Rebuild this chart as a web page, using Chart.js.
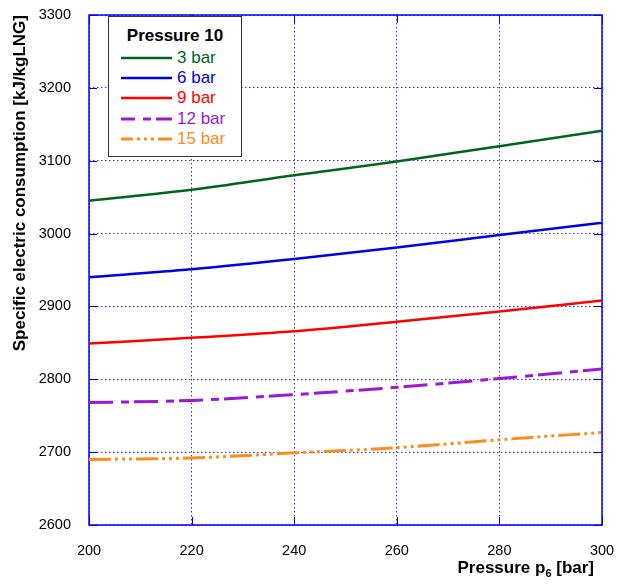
<!DOCTYPE html>
<html>
<head>
<meta charset="utf-8">
<script src="https://cdn.jsdelivr.net/npm/chart.js@4/dist/chart.umd.min.js"></script>
<style>
html,body{margin:0;padding:0;background:#fff;}
#wrap{position:relative;width:617px;height:587px;overflow:hidden;}
canvas{display:block;}
#legend{position:absolute;left:108px;top:16px;width:134px;height:141px;border:1px solid #333;background:#fff;box-sizing:border-box;font-family:"Liberation Sans",Arial,Helvetica,sans-serif;}
#legend .title{position:absolute;left:0;right:0;top:9px;text-align:center;font-weight:bold;font-size:17px;line-height:20px;color:#000;}
#legend .row{position:absolute;left:0;height:20px;width:100%;}
#legend svg{position:absolute;left:12px;top:7px;}
#legend .lab{position:absolute;left:68px;top:0;font-size:17px;line-height:20px;}
#xtitle{position:absolute;right:23px;top:558px;font-family:"Liberation Sans",Arial,Helvetica,sans-serif;font-weight:bold;font-size:17px;line-height:20px;color:#000;white-space:nowrap;}
#xtitle sub{font-size:11px;position:relative;top:4px;vertical-align:baseline;}
</style>
</head>
<body>
<div id="wrap">
<canvas id="c" width="617" height="587"></canvas>
<div id="legend"><div class="title">Pressure 10</div></div>
<div id="xtitle">Pressure p<sub>6</sub> [bar]</div>
</div>
<script>
// ---- data ----
const pressureP6 = [200, 220, 240, 260, 280, 300];
const seriesLabels = ['3 bar', '6 bar', '9 bar', '12 bar', '15 bar'];
const consumption3bar  = [3045, 3060, 3080, 3099, 3120, 3141];
const consumption6bar  = [2940, 2951, 2965, 2981, 2998, 3015];
const consumption9bar  = [2849, 2857, 2866, 2879, 2893, 2908];
const consumption12bar = [2768, 2771, 2779, 2789, 2801, 2814];
const consumption15bar = [2690, 2692, 2699, 2706, 2717, 2727];
const xTickValues = [200, 220, 240, 260, 280, 300];
const yTickValues = [2600, 2700, 2800, 2900, 3000, 3100, 3200, 3300];

// ---- styles ----
const FONT = '"Liberation Sans", Arial, Helvetica, sans-serif';
const seriesColors = ['#00641e', '#0000e6', '#ff0000', '#9b19d6', '#ff8c1a'];
const seriesDashes = [[], [], [], [24, 8, 8, 5], [22, 4, 3, 4, 3, 4, 3, 4]];
const seriesWidths = [2.5, 2.5, 2.5, 3, 3];
const seriesValues = [consumption3bar, consumption6bar, consumption9bar, consumption12bar, consumption15bar];
const GRID = 'rgba(30,30,225,0.9)';
const FRAME = '#0000ff';

const datasets = seriesValues.map((vals, i) => ({
  label: seriesLabels[i],
  data: pressureP6.map((p, j) => ({x: p, y: vals[j]})),
  borderColor: seriesColors[i],
  backgroundColor: seriesColors[i],
  borderWidth: seriesWidths[i],
  borderDash: seriesDashes[i],
  borderCapStyle: 'butt',
  pointRadius: 0,
  cubicInterpolationMode: 'monotone',
  fill: false
}));

const framePlugin = {
  id: 'frame',
  beforeDatasetsDraw(chart) {
    const {ctx, chartArea: a, scales} = chart;
    ctx.save();
    ctx.strokeStyle = FRAME;
    ctx.lineWidth = 1;
    ctx.setLineDash([]);
    const L = 8;
    ctx.beginPath();
    scales.y.ticks.forEach(t => {
      const y = Math.round(scales.y.getPixelForValue(t.value)) + 0.5;
      ctx.moveTo(a.left, y); ctx.lineTo(a.left + L, y);
      ctx.moveTo(a.right, y); ctx.lineTo(a.right - L, y);
    });
    scales.x.ticks.forEach(t => {
      const x = Math.round(scales.x.getPixelForValue(t.value)) + 0.5;
      ctx.moveTo(x, a.bottom); ctx.lineTo(x, a.bottom - L);
      ctx.moveTo(x, a.top); ctx.lineTo(x, a.top + L);
    });
    ctx.stroke();
    ctx.lineWidth = 1.5;
    ctx.strokeRect(a.left, a.top, a.right - a.left, a.bottom - a.top);
    ctx.restore();
  }
};

const noPad = s => { s.paddingLeft = 0; s.paddingRight = 0; s.paddingTop = 0; s.paddingBottom = 0; };

new Chart(document.getElementById('c'), {
  type: 'line',
  data: {datasets},
  options: {
    responsive: false,
    devicePixelRatio: 1,
    animation: false,
    layout: {padding: {top: 15, right: 15, left: 0, bottom: 0}},
    plugins: {legend: {display: false}, tooltip: {enabled: false}},
    scales: {
      x: {
        type: 'linear', min: 200, max: 300,
        afterBuildTicks: s => { s.ticks = xTickValues.map(v => ({value: v})); },
        afterFit: s => { s.height = 62; noPad(s); },
        grid: {color: GRID, lineWidth: 1, drawTicks: false},
        border: {display: false, dash: [1.5, 2.5]},
        ticks: {padding: 17, color: '#000', font: {family: FONT, size: 14.5}, callback: v => String(v)}
      },
      y: {
        type: 'linear', min: 2600, max: 3300,
        afterBuildTicks: s => { s.ticks = yTickValues.map(v => ({value: v})); },
        afterFit: s => { s.width = 89; noPad(s); },
        grid: {color: GRID, lineWidth: 1, drawTicks: false},
        border: {display: false, dash: [1.5, 2.5]},
        ticks: {padding: 18, color: '#000', font: {family: FONT, size: 14.5}, callback: v => String(v)},
        title: {display: true, text: 'Specific electric consumption [kJ/kgLNG]', align: 'end', color: '#000',
                font: {family: FONT, size: 17, weight: 'bold'}, padding: {top: 10, bottom: 0}}
      }
    }
  },
  plugins: [framePlugin]
});

// HTML legend built from the same series arrays
const legend = document.getElementById('legend');
const rowTops = [31, 51, 71, 92, 112];
seriesLabels.forEach((lab, i) => {
  const row = document.createElement('div');
  row.className = 'row';
  row.style.top = rowTops[i] + 'px';
  const dash = seriesDashes[i].length ? `stroke-dasharray="${seriesDashes[i].join(' ')}" stroke-dashoffset="10"` : '';
  row.innerHTML = `<svg width="52" height="6"><line x1="0" y1="3" x2="51" y2="3" stroke="${seriesColors[i]}" stroke-width="${seriesWidths[i]}" ${dash}/></svg>` +
    `<span class="lab" style="color:${seriesColors[i]}">${lab}</span>`;
  legend.appendChild(row);
});
</script>
</body>
</html>
